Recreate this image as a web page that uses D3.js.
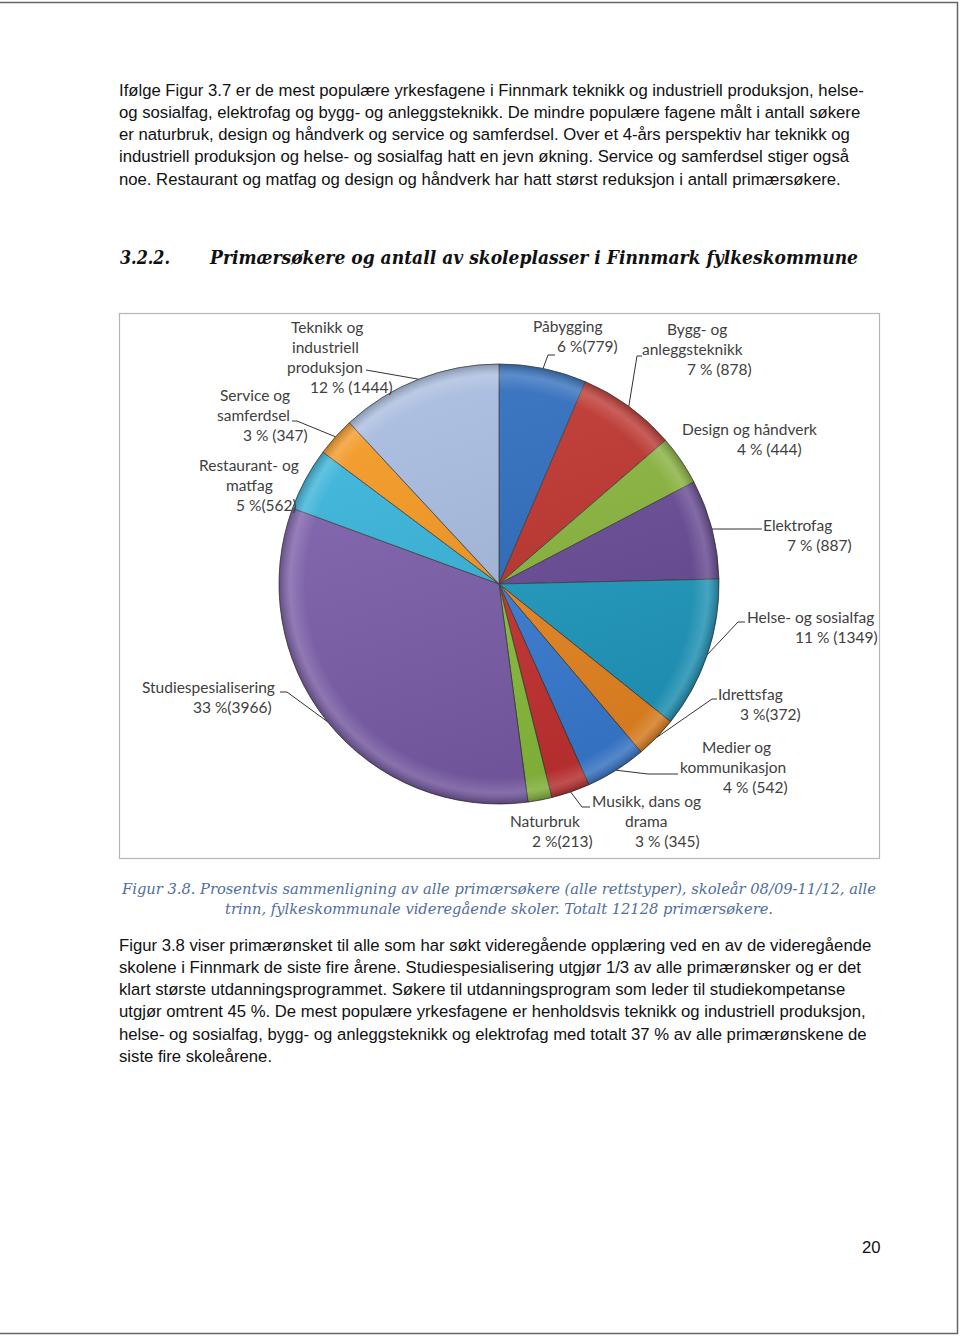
<!DOCTYPE html>
<html>
<head>
<meta charset="utf-8">
<script src="https://cdn.jsdelivr.net/npm/d3@7"></script>
<style>
  body { margin: 0; background: #fff; }
  svg { display: block; }
</style>
</head>
<body>
<svg width="960" height="1337"></svg>
<script>
// Data
const categories = [
    "Påbygging", "Bygg- og anleggsteknikk", "Design og håndverk", "Elektrofag",
    "Helse- og sosialfag", "Idrettsfag", "Medier og kommunikasjon",
    "Musikk, dans og drama", "Naturbruk", "Studiespesialisering",
    "Restaurant- og matfag", "Service og samferdsel", "Teknikk og industriell produksjon"
];
const applicants = [779, 878, 444, 887, 1349, 372, 542, 345, 213, 3966, 562, 347, 1444];
const percentLabels = ["6 %(779)", "7 % (878)", "4 % (444)", "7 % (887)", "11 % (1349)", "3 %(372)",
    "4 % (542)", "3 % (345)", "2 %(213)", "33 %(3966)", "5 %(562)", "3 % (347)", "12 % (1444)"];
const nameLines = [
    ["Påbygging"], ["Bygg- og", "anleggsteknikk"], ["Design og håndverk"], ["Elektrofag"],
    ["Helse- og sosialfag"], ["Idrettsfag"], ["Medier og", "kommunikasjon"],
    ["Musikk, dans og", "drama"], ["Naturbruk"], ["Studiespesialisering"],
    ["Restaurant- og", "matfag"], ["Service og", "samferdsel"], ["Teknikk og", "industriell", "produksjon"]
];
const sliceColors = ["#2c6cc0", "#c1332c", "#8bb83c", "#6a4b99", "#1f9dc4", "#f08a22",
    "#3b80db", "#cc3434", "#8fc43f", "#7e5fae", "#36b6de", "#f7991f", "#a9bde2"];

const paragraph1 = [
    "Ifølge Figur 3.7 er de mest populære yrkesfagene i Finnmark teknikk og industriell produksjon, helse-",
    "og sosialfag, elektrofag og bygg- og anleggsteknikk. De mindre populære fagene målt i antall søkere",
    "er naturbruk, design og håndverk og service og samferdsel. Over et 4-års perspektiv har teknikk og",
    "industriell produksjon og helse- og sosialfag hatt en jevn økning. Service og samferdsel stiger også",
    "noe. Restaurant og matfag og design og håndverk har hatt størst reduksjon i antall primærsøkere."
];
const paragraph2 = [
    "Figur 3.8 viser primærønsket til alle som har søkt videregående opplæring ved en av de videregående",
    "skolene i Finnmark de siste fire årene. Studiespesialisering utgjør 1/3 av alle primærønsker og er det",
    "klart største utdanningsprogrammet. Søkere til utdanningsprogram som leder til studiekompetanse",
    "utgjør omtrent 45 %. De mest populære yrkesfagene er henholdsvis teknikk og industriell produksjon,",
    "helse- og sosialfag, bygg- og anleggsteknikk og elektrofag med totalt 37 % av alle primærønskene de",
    "siste fire skoleårene."
];
const headingNumber = "3.2.2.";
const headingText = "Primærsøkere og antall av skoleplasser i Finnmark fylkeskommune";
const captionLines = [
    "Figur 3.8. Prosentvis sammenligning av alle primærsøkere (alle rettstyper), skoleår 08/09-11/12, alle",
    "trinn, fylkeskommunale videregående skoler. Totalt 12128 primærsøkere."
];

// Label layout (text position of each slice label, and leader elbow if any)
const labelLayout = [
    { x: [533, 557], y: 327, elbow: [[555, 355], [548, 355]] },
    { x: [667, 642, 687], y: 330, elbow: [[642, 356], [637, 356]] },
    { x: [682, 737], y: 430, elbow: null },
    { x: [763, 787], y: 526, elbow: [[762, 529]] },
    { x: [747, 795], y: 618, elbow: [[745, 622], [738, 622]] },
    { x: [718, 740], y: 695, elbow: [[717, 699], [712, 699]] },
    { x: [702, 680, 723], y: 748, elbow: [[678, 774], [648, 774]] },
    { x: [592, 625, 635], y: 802, elbow: [[590, 807], [582, 807]] },
    { x: [510, 532], y: 822, elbow: null },
    { x: [142, 193], y: 688, elbow: [[280, 692], [287, 692]] },
    { x: [199, 226, 236], y: 466, elbow: null },
    { x: [220, 217, 243], y: 396, elbow: [[292, 421], [297, 421]] },
    { x: [291, 292, 287, 310], y: 328, elbow: [[366, 370]] }
];

const svg = d3.select("svg");
const width = 960, height = 1337;

// Page frame
svg.append("path")
    .attr("d", `M0,2.5 H957.5 V1333.5 H0`)
    .attr("fill", "none")
    .attr("stroke", "#666")
    .attr("stroke-width", 1.5);

// Body text
const bodyFont = "'Liberation Sans', Arial, Helvetica, sans-serif";
function paragraph(lines, y0) {
    svg.append("g").selectAll("text")
        .data(lines)
        .enter()
        .append("text")
        .attr("x", 119)
        .attr("y", (d, i) => y0 + i * 22.3)
        .attr("font-family", bodyFont)
        .attr("font-size", 16.7)
        .attr("fill", "#111")
        .text(d => d);
}
paragraph(paragraph1, 95.5);
paragraph(paragraph2, 950.5);

// Heading
const headFont = "'DejaVu Serif', serif";
svg.append("text")
    .attr("x", 120).attr("y", 264)
    .attr("font-family", headFont).attr("font-size", 18)
    .attr("font-weight", "bold").attr("font-style", "italic")
    .attr("textLength", 50).attr("lengthAdjust", "spacingAndGlyphs")
    .attr("fill", "#111")
    .text(headingNumber);
svg.append("text")
    .attr("x", 210).attr("y", 264)
    .attr("font-family", headFont).attr("font-size", 18)
    .attr("font-weight", "bold").attr("font-style", "italic")
    .attr("textLength", 648).attr("lengthAdjust", "spacingAndGlyphs")
    .attr("fill", "#111")
    .text(headingText);

// Chart box
svg.append("rect")
    .attr("x", 119.5).attr("y", 313.5)
    .attr("width", 760).attr("height", 545)
    .attr("fill", "#fff")
    .attr("stroke", "#b5b5b5")
    .attr("stroke-width", 1.2);

// Pie
const cx = 499, cy = 584, radius = 220;
const pie = d3.pie().sort(null).value(d => d)(applicants);
const arc = d3.arc().innerRadius(0).outerRadius(radius);

const defs = svg.append("defs");
const bevel = defs.append("radialGradient").attr("id", "bevel")
    .attr("cx", "50%").attr("cy", "50%").attr("r", "50%");
bevel.append("stop").attr("offset", "0%").attr("stop-color", "#fff").attr("stop-opacity", 0);
bevel.append("stop").attr("offset", "88%").attr("stop-color", "#fff").attr("stop-opacity", 0);
bevel.append("stop").attr("offset", "95%").attr("stop-color", "#fff").attr("stop-opacity", 0.16);
bevel.append("stop").attr("offset", "100%").attr("stop-color", "#000").attr("stop-opacity", 0.22);
const shade = defs.append("linearGradient").attr("id", "shade")
    .attr("x1", "0").attr("y1", "0").attr("x2", "0.3").attr("y2", "1");
shade.append("stop").attr("offset", "0%").attr("stop-color", "#fff").attr("stop-opacity", 0.1);
shade.append("stop").attr("offset", "100%").attr("stop-color", "#000").attr("stop-opacity", 0.12);

const pieG = svg.append("g").attr("transform", `translate(${cx},${cy})`);
pieG.selectAll("path.slice")
    .data(pie)
    .enter()
    .append("path")
    .attr("class", "slice")
    .attr("d", arc)
    .attr("fill", (d, i) => sliceColors[i])
    .attr("stroke", "#3a3a3a")
    .attr("stroke-width", 0.8);
pieG.append("circle").attr("r", radius).attr("fill", "url(#shade)");
pieG.append("circle").attr("r", radius).attr("fill", "url(#bevel)");

// Leader lines
const edgePoint = d => {
    const a = (d.startAngle + d.endAngle) / 2;
    return [cx + radius * Math.sin(a), cy - radius * Math.cos(a)];
};
svg.append("g").selectAll("path")
    .data(pie.filter((d, i) => labelLayout[i].elbow))
    .enter()
    .append("path")
    .attr("d", d => d3.line()(labelLayout[d.index].elbow.concat([edgePoint(d)])))
    .attr("fill", "none")
    .attr("stroke", "#333")
    .attr("stroke-width", 1);

// Labels
const labelFont = "Lato, 'Open Sans', sans-serif";
const labelG = svg.append("g");
pie.forEach((d, i) => {
    const lines = nameLines[i].concat([percentLabels[i]]);
    const lay = labelLayout[i];
    lines.forEach((t, j) => {
        labelG.append("text")
            .attr("x", lay.x[j])
            .attr("y", lay.y + j * 20)
            .attr("dy", "0.35em")
            .attr("font-family", labelFont)
            .attr("font-size", 15.5)
            .attr("fill", "#404040")
            .text(t);
    });
});

// Caption
svg.append("g").selectAll("text")
    .data(captionLines)
    .enter()
    .append("text")
    .attr("x", 499)
    .attr("y", (d, i) => 894 + i * 20)
    .attr("text-anchor", "middle")
    .attr("font-family", headFont)
    .attr("font-style", "italic")
    .attr("font-size", 15)
    .attr("textLength", (d, i) => i === 0 ? 754 : 548)
    .attr("lengthAdjust", "spacingAndGlyphs")
    .attr("fill", "#4f6e9e")
    .text(d => d);

// Page number
svg.append("text")
    .attr("x", 862).attr("y", 1253)
    .attr("font-family", bodyFont).attr("font-size", 16.7)
    .attr("fill", "#111")
    .text("20");
</script>
</body>
</html>
